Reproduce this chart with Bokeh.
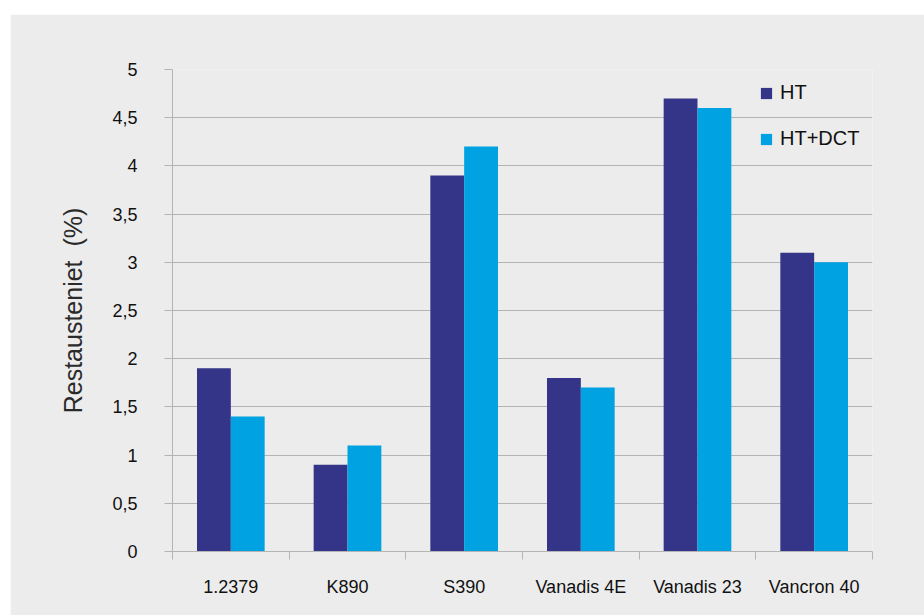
from bokeh.plotting import figure
from bokeh.models import FixedTicker, Legend, LegendItem, ColumnDataSource
from bokeh.embed import file_html
from bokeh.resources import INLINE

# Retained austenite per tool steel, two heat treatments
steels = ["1.2379", "K890", "S390", "Vanadis 4E", "Vanadis 23", "Vancron 40"]
ht = [1.9, 0.9, 3.9, 1.8, 4.7, 3.1]
ht_dct = [1.4, 1.1, 4.2, 1.7, 4.6, 3.0]
y_ticks = [0, 0.5, 1, 1.5, 2, 2.5, 3, 3.5, 4, 4.5, 5]
y_tick_labels = ["0", "0,5", "1", "1,5", "2", "2,5", "3", "3,5", "4", "4,5", "5"]

BG = "#ececec"
GRID = "#b4b4b4"
DARK = "#343489"
LIGHT = "#00a2e2"
FONT = "Liberation Sans"

bar_w = 0.29
centers = [i + 0.5 for i in range(len(steels))]
src = ColumnDataSource(dict(
    x_ht=[c - bar_w / 2 for c in centers],
    x_dct=[c + bar_w / 2 for c in centers],
    ht=ht,
    dct=ht_dct,
))

p = figure(
    width=914, height=601,
    x_range=(0, len(steels)), y_range=(0, 5),
    output_backend="svg", toolbar_location=None,
    background_fill_color=BG, border_fill_color=BG,
    min_border_left=162, min_border_right=52,
    min_border_top=55, min_border_bottom=64,
    outline_line_color=None,
)
p.margin = (14, 0, 0, 10)

r1 = p.vbar(x="x_ht", top="ht", width=bar_w, bottom=0, source=src,
            fill_color=DARK, line_color=None)
r2 = p.vbar(x="x_dct", top="dct", width=bar_w, bottom=0, source=src,
            fill_color=LIGHT, line_color=None)

# x axis: labels at category centres, tick marks at category boundaries
xa = p.xaxis[0]
xa.ticker = FixedTicker(ticks=centers, minor_ticks=list(range(len(steels) + 1)))
xa.major_label_overrides = {c: s for c, s in zip(centers, steels)}
xa.major_tick_line_color = None
xa.major_tick_out = 0
xa.major_tick_in = 0
xa.minor_tick_line_color = GRID
xa.minor_tick_out = 8
xa.minor_tick_in = 0
xa.axis_line_color = GRID
xa.major_label_standoff = 17
xa.major_label_text_font = FONT
xa.major_label_text_font_size = "18px"
xa.major_label_text_color = "#111111"

ya = p.yaxis[0]
ya.ticker = FixedTicker(ticks=y_ticks)
ya.major_label_overrides = {t: l for t, l in zip(y_ticks, y_tick_labels)}
ya.major_tick_line_color = GRID
ya.major_tick_out = 8
ya.major_tick_in = 0
ya.minor_tick_line_color = None
ya.axis_line_color = GRID
ya.major_label_standoff = 27
ya.major_label_text_font = FONT
ya.major_label_text_font_size = "18px"
ya.major_label_text_color = "#111111"
ya.axis_label = "Restausteniet\u00a0 (%)"
ya.axis_label_text_font = FONT
ya.axis_label_text_font_size = "25px"
ya.axis_label_text_font_style = "normal"
ya.axis_label_text_color = "#2a2a2a"
ya.axis_label_standoff = 22

p.xgrid.grid_line_color = None
p.ygrid.grid_line_color = GRID
p.ygrid.ticker = FixedTicker(ticks=y_ticks)

legend = Legend(
    items=[LegendItem(label="HT", renderers=[r1]),
           LegendItem(label="HT+DCT", renderers=[r2])],
    location=(587, 401),
    orientation="vertical",
    glyph_width=14, glyph_height=14,
    label_height=14, spacing=23, padding=0, margin=0,
    label_standoff=7,
    label_text_font=FONT, label_text_font_size="20px",
    label_text_color="#111111",
    border_line_color=None, background_fill_alpha=0,
)
p.add_layout(legend)

open("out.html", "w").write(file_html(p, INLINE))
